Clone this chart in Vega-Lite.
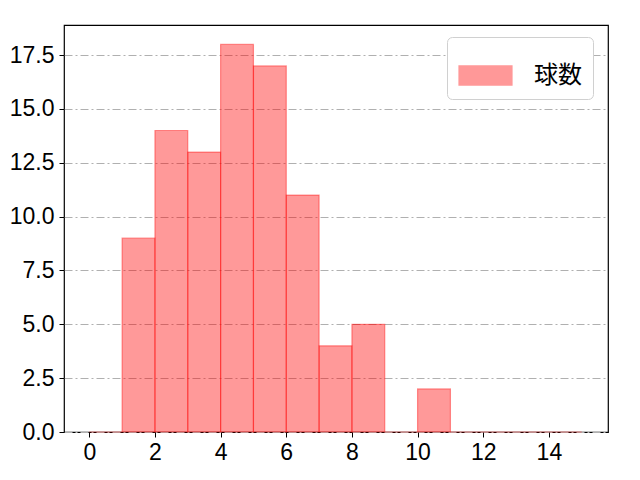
{
  "$schema": "https://vega.github.io/schema/vega-lite/v6.json",
  "width": 544,
  "height": 407,
  "autosize": {"type": "none"},
  "padding": {"left": 64, "top": 25, "right": 32, "bottom": 48},
  "background": "white",
  "config": {
    "font": "Liberation Sans",
    "view": {"stroke": "black", "strokeWidth": 1.2},
    "axis": {
      "domain": false,
      "tickColor": "black",
      "tickSize": 5,
      "tickWidth": 1,
      "labelFontSize": 23,
      "labelColor": "black",
      "labelFont": "Liberation Sans",
      "title": null
    }
  },
  "data": {
    "values": [
      {"start": 0, "end": 1, "count": 0, "series": "球数"},
      {"start": 1, "end": 2, "count": 9, "series": "球数"},
      {"start": 2, "end": 3, "count": 14, "series": "球数"},
      {"start": 3, "end": 4, "count": 13, "series": "球数"},
      {"start": 4, "end": 5, "count": 18, "series": "球数"},
      {"start": 5, "end": 6, "count": 17, "series": "球数"},
      {"start": 6, "end": 7, "count": 11, "series": "球数"},
      {"start": 7, "end": 8, "count": 4, "series": "球数"},
      {"start": 8, "end": 9, "count": 5, "series": "球数"},
      {"start": 9, "end": 10, "count": 0, "series": "球数"},
      {"start": 10, "end": 11, "count": 2, "series": "球数"},
      {"start": 11, "end": 12, "count": 0, "series": "球数"},
      {"start": 12, "end": 13, "count": 0, "series": "球数"},
      {"start": 13, "end": 14, "count": 0, "series": "球数"},
      {"start": 14, "end": 15, "count": 0, "series": "球数"}
    ]
  },
  "mark": {
    "type": "bar",
    "fillOpacity": 0.4,
    "stroke": "#ff0000",
    "strokeOpacity": 0.4,
    "strokeWidth": 1.2
  },
  "encoding": {
    "x": {
      "field": "start",
      "type": "quantitative",
      "scale": {"domain": [-0.77, 15.8], "nice": false, "zero": false},
      "axis": {"values": [0, 2, 4, 6, 8, 10, 12, 14], "grid": false, "labelPadding": 4}
    },
    "x2": {"field": "end"},
    "y": {
      "field": "count",
      "type": "quantitative",
      "scale": {"domain": [0, 18.9], "nice": false},
      "axis": {
        "values": [0, 2.5, 5, 7.5, 10, 12.5, 15, 17.5],
        "format": ".1f",
        "grid": true,
        "gridColor": "#b0b0b0",
        "gridWidth": 1,
        "gridDash": [8, 3, 2, 3],
        "labelPadding": 5
      }
    },
    "y2": {"datum": 0},
    "color": {
      "field": "series",
      "type": "nominal",
      "scale": {"range": ["#ff0000"]},
      "legend": {
        "title": null,
        "orient": "none",
        "legendX": 383,
        "legendY": 12,
        "symbolType": "M-1,-0.36L1,-0.36L1,0.36L-1,0.36Z",
        "symbolSize": 2809,
        "symbolOpacity": 0.4,
        "symbolStrokeColor": "#ff0000",
        "symbolStrokeWidth": 1.2,
        "labelFont": "Noto Sans CJK JP",
        "labelFontSize": 24,
        "labelColor": "black",
        "labelOffset": 21,
        "padding": 11,
        "strokeColor": "#d0d0d0",
        "fillColor": "white",
        "cornerRadius": 5
      }
    }
  }
}
